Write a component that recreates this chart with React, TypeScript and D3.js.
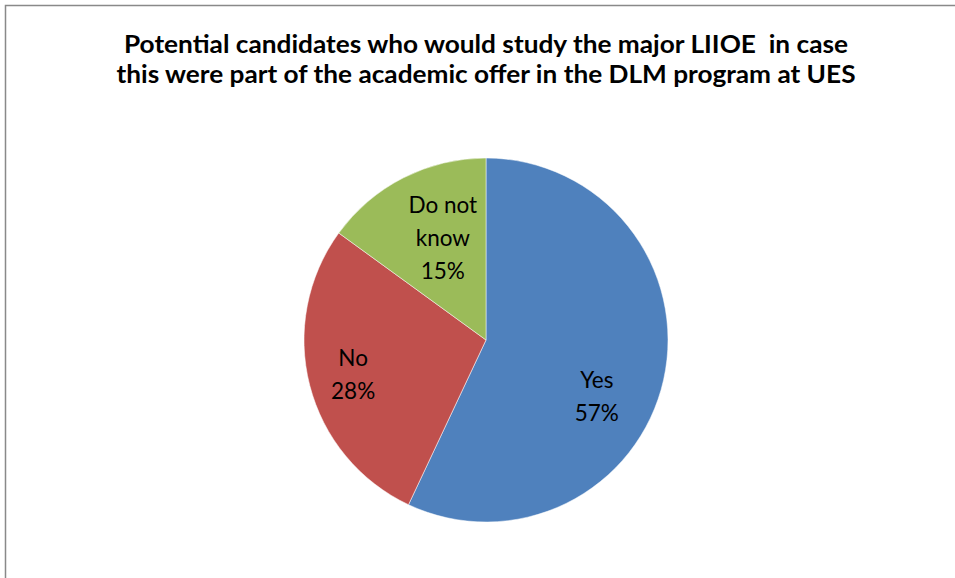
import React from "react";
import * as d3 from "d3";

const categories = ["Yes", "No", "Do not know"];
const values = [57, 28, 15];
const labelLines = [["Yes"], ["No"], ["Do not", "know"]];
const colors = ["#4F81BD", "#C0504D", "#9BBB59"];
const titleLines = [
  "Potential candidates who would study the major LIIOE\u00a0 in case",
  "this were part of the academic offer in the DLM program at UES",
];

const W = 955;
const H = 578;
const cx = 486;
const cy = 340;
const R = 182;
const nudges = [
  [-10, 30],
  [-13, 4],
  [13, 8.5],
];

export default function App() {
  const pie = d3
    .pie<number>()
    .sort(null)
    .value((d) => d)
    .startAngle(0)
    .endAngle(2 * Math.PI);
  const arcs = pie(values);
  const arc = d3.arc<d3.PieArcDatum<number>>().innerRadius(0).outerRadius(R);
  const labelArc = d3
    .arc<d3.PieArcDatum<number>>()
    .innerRadius(R * 0.68)
    .outerRadius(R * 0.68);
  const total = d3.sum(values);
  const lineH = 33;
  const cap = 16;

  return (
    <svg
      width={W}
      height={H}
      style={{ position: "absolute", left: 0, top: 0, background: "#fff" }}
    >
      <rect x={5.5} y={5.5} width={W + 20} height={H + 20} fill="#fff" stroke="#898989" strokeWidth={1.5} />
      <g fontFamily="Lato, 'Open Sans', sans-serif" fontWeight="bold" fontSize={24} fill="#000">
        <text x={cx} y={53} textAnchor="middle" textLength={724} lengthAdjust="spacingAndGlyphs" xmlSpace="preserve">
          {titleLines[0]}
        </text>
        <text x={cx} y={83} textAnchor="middle" textLength={739} lengthAdjust="spacingAndGlyphs" xmlSpace="preserve">
          {titleLines[1]}
        </text>
      </g>
      <g transform={`translate(${cx},${cy})`}>
        {arcs.map((a, i) => (
          <path key={categories[i]} d={arc(a) || ""} fill={colors[i]} stroke="#fff" strokeWidth={0.5} />
        ))}
        {arcs.map((a, i) => {
          const [x, y] = labelArc.centroid(a);
          const lx = x + nudges[i][0];
          const ly = y + nudges[i][1];
          const lines = [...labelLines[i], `${Math.round((values[i] / total) * 100)}%`];
          const firstBase = ly - ((lines.length - 1) * lineH) / 2 + cap / 2;
          return (
            <text
              key={"l" + i}
              textAnchor="middle"
              fontFamily="Lato, 'Open Sans', sans-serif"
              fontSize={22.5}
              fill="#000"
            >
              {lines.map((t, j) => (
                <tspan key={j} x={lx} y={firstBase + j * lineH}>
                  {t}
                </tspan>
              ))}
            </text>
          );
        })}
      </g>
    </svg>
  );
}
